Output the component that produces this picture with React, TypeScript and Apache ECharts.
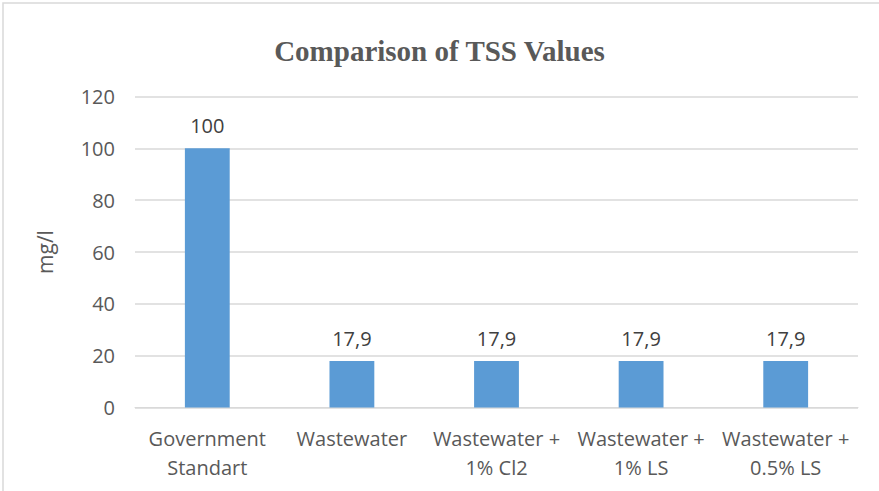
import React, { useEffect, useRef } from "react";
import * as echarts from "echarts";

const categories = [
  "Government\nStandart",
  "Wastewater",
  "Wastewater +\n1% Cl2",
  "Wastewater +\n1% LS",
  "Wastewater +\n0.5% LS",
];
const values = [100, 17.9, 17.9, 17.9, 17.9];
const yTicks = { min: 0, max: 120, interval: 20 };

export default function App() {
  const ref = useRef<HTMLDivElement>(null);
  useEffect(() => {
    document.body.style.margin = "0";
    const chart = echarts.init(ref.current!, null, { renderer: "svg" });
    const font = "'Open Sans', 'Noto Sans', sans-serif";
    chart.setOption({
      animation: false,
      backgroundColor: "#ffffff",
      title: {
        text: "Comparison of TSS Values",
        left: "center",
        top: 31,
        textStyle: {
          fontFamily: "'Liberation Serif', serif",
          fontWeight: "bold",
          fontSize: 29,
          color: "#595959",
        },
      },
      graphic: [
        {
          type: "rect",
          shape: { x: 3, y: 3, width: 880, height: 500 },
          style: { fill: "none", stroke: "#d9d9d9", lineWidth: 1.5 },
          silent: true,
        },
      ],
      grid: { left: 135, right: 21, top: 96.5, bottom: 83.5 },
      xAxis: {
        type: "category",
        data: categories,
        axisTick: { show: false },
        axisLine: { lineStyle: { color: "#d9d9d9", width: 1 } },
        axisLabel: {
          color: "#595959",
          fontFamily: font,
          fontSize: 20,
          lineHeight: 29,
          margin: 16,
          interval: 0,
        },
      },
      yAxis: {
        type: "value",
        min: yTicks.min,
        max: yTicks.max,
        interval: yTicks.interval,
        name: "mg/l",
        nameLocation: "middle",
        nameGap: 80,
        nameRotate: 90,
        nameTextStyle: { color: "#595959", fontFamily: font, fontSize: 21 },
        axisLine: { show: false },
        axisTick: { show: false },
        splitLine: { lineStyle: { color: "#d9d9d9", width: 1.5 } },
        axisLabel: {
          color: "#595959",
          fontFamily: font,
          fontSize: 20,
          margin: 20,
        },
      },
      series: [
        {
          type: "bar",
          data: values,
          barWidth: "31%",
          itemStyle: { color: "#5B9BD5" },
          label: {
            show: true,
            position: "top",
            distance: 13,
            color: "#404040",
            fontFamily: font,
            fontSize: 20,
            formatter: (p: any) => String(p.value).replace(".", ","),
          },
        },
      ],
    });
    return () => chart.dispose();
  }, []);
  return (
    <div
      ref={ref}
      style={{ position: "absolute", left: 0, top: 0, width: 879, height: 491 }}
    />
  );
}
